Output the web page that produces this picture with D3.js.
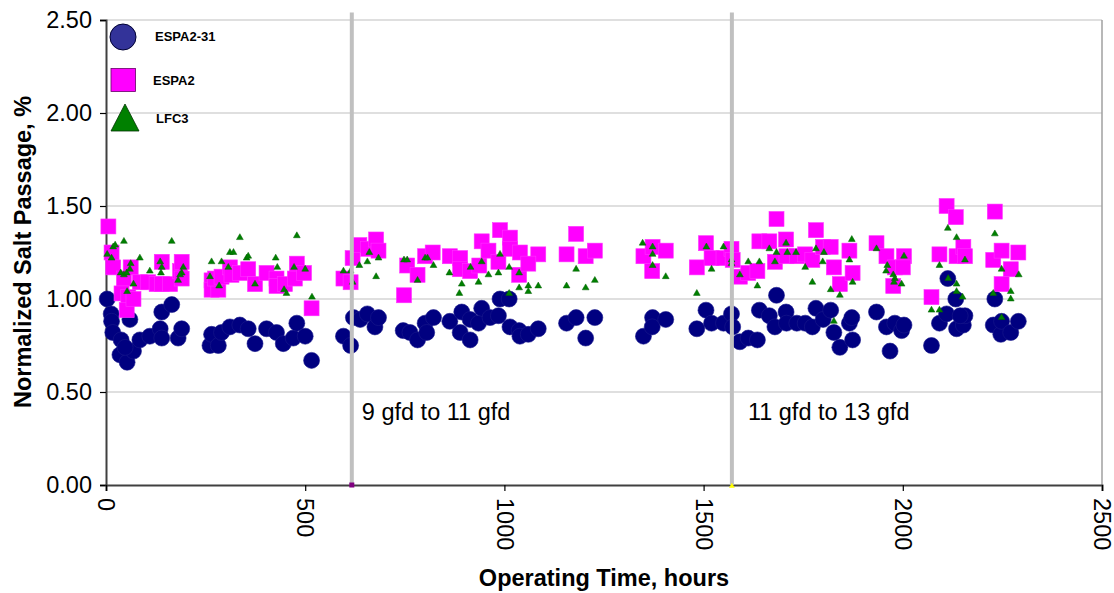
<!DOCTYPE html>
<html>
<head>
<meta charset="utf-8">
<script src="https://cdn.jsdelivr.net/npm/d3@7"></script>
<style>
  html, body { margin: 0; padding: 0; background: #fff; }
  svg { display: block; font-family: "Liberation Sans", Arial, sans-serif; }
</style>
</head>
<body>
<svg id="chart" width="1114" height="593"></svg>
<script>
// ESPA2-31 membrane: operating hours and normalized salt passage (%)
const espa231Hours = [3,13,14,17,38,35,53,69,60,48,85,110,136,140,140,165,181,190,
  261,265,282,290,311,336,357,374,403,428,445,470,479,500,516,
  596,614,621,638,656,675,684,746,763,782,801,805,822,863,889,893,914,914,935,943,964,985,989,1012,1014,1037,1039,1060,1085,
  1156,1180,1204,1227,1349,1372,1371,1405,1483,1506,1520,
  1550,1570,1573,1591,1612,1635,1640,1665,1679,1683,1707,1708,1734,1755,1773,1782,1800,1819,1827,1842,1866,1872,1874,
  1934,1959,1968,1980,1997,2003,2072,2092,2110,2113,2133,2135,2152,2156,2144,2227,2231,2246,2248,2271,2290];
const espa231Values = [1.00,0.92,0.88,0.82,0.78,0.70,0.66,0.72,0.89,0.74,0.78,0.80,0.84,0.79,0.93,0.97,0.79,0.84,
  0.75,0.81,0.75,0.82,0.85,0.86,0.84,0.76,0.84,0.82,0.76,0.79,0.87,0.80,0.67,
  0.80,0.75,0.90,0.89,0.92,0.85,0.90,0.83,0.82,0.78,0.87,0.82,0.90,0.88,0.82,0.93,0.78,0.89,0.87,0.95,0.90,0.91,1.00,1.00,0.85,0.83,0.80,0.81,0.84,
  0.87,0.90,0.79,0.90,0.80,0.90,0.85,0.89,0.84,0.94,0.87,
  0.87,0.92,0.85,0.77,0.79,0.78,0.94,0.91,0.85,1.02,0.93,0.87,0.87,0.87,0.85,0.95,0.89,0.94,0.82,0.74,0.87,0.90,0.78,
  0.93,0.85,0.72,0.87,0.83,0.86,0.75,0.87,0.92,1.11,1.00,0.84,0.86,0.91,0.91,0.86,1.00,0.81,0.88,0.82,0.88];

// ESPA2 membrane
const espa2Hours = [6,14,18,45,39,56,52,69,62,85,106,127,140,140,161,186,190,190,
  265,265,282,274,290,311,315,336,357,374,403,428,428,449,479,474,497,516,
  596,614,619,636,658,678,684,748,756,782,801,820,863,889,889,914,943,937,960,989,985,1014,1014,1037,1039,1085,1060,
  1156,1180,1204,1227,1349,1372,1371,1405,1483,1506,1520,
  1550,1570,1573,1591,1612,1635,1640,1665,1679,1683,1707,1708,1734,1755,1773,1782,1800,1819,1827,1842,1866,1874,
  1934,1959,1980,2003,2000,1976,2072,2092,2110,2133,2135,2152,2156,2227,2231,2248,2271,2248,2290];
const espa2Values = [1.39,1.25,1.17,1.11,1.03,1.01,0.94,1.00,1.17,1.09,1.09,1.08,1.20,1.08,1.08,1.15,1.20,1.11,
  1.10,1.05,1.05,1.11,1.12,1.17,1.13,1.14,1.16,1.08,1.14,1.11,1.07,1.08,1.19,1.11,1.14,0.95,
  1.11,1.09,1.22,1.29,1.27,1.32,1.26,1.02,1.18,1.13,1.23,1.25,1.23,1.22,1.16,1.15,1.31,1.18,1.26,1.37,1.20,1.33,1.27,1.13,1.25,1.24,1.19,
  1.24,1.35,1.23,1.26,1.23,1.28,1.15,1.26,1.17,1.30,1.22,
  1.22,1.27,1.21,1.12,1.14,1.15,1.31,1.31,1.20,1.43,1.32,1.23,1.23,1.24,1.21,1.37,1.28,1.28,1.17,1.08,1.26,1.14,
  1.30,1.23,1.17,1.23,1.17,1.07,1.01,1.24,1.50,1.44,1.23,1.28,1.23,1.21,1.47,1.26,1.16,1.08,1.25];

// LFC3 membrane
const lfc3Hours = [3,14,18,23,45,37,45,52,60,62,69,53,85,110,136,140,138,165,194,190,186,181,
  265,261,284,290,311,320,307,336,353,357,374,426,430,447,453,472,479,500,517,
  596,614,619,636,656,661,684,678,748,756,782,801,807,822,862,887,893,915,935,943,960,985,989,1012,1012,1037,1037,1060,1060,1085,
  1156,1180,1204,1227,1347,1372,1372,1372,1405,1483,1507,1520,
  1550,1570,1570,1591,1612,1635,1640,1665,1679,1683,1707,1710,1732,1755,1773,1782,1799,1802,1819,1827,1842,1866,1872,1874,
  1934,1958,1961,1976,1980,1978,1997,2003,2072,2092,2092,2113,2114,2135,2135,2135,2150,2156,2231,2227,2248,2248,2271,2271,2291];
const lfc3Values = [1.24,1.22,1.28,1.29,1.31,1.14,1.13,1.14,1.16,1.19,1.08,1.04,1.22,1.15,1.20,1.17,1.14,1.31,1.17,1.14,1.13,1.10,
  1.20,1.12,1.07,1.20,1.25,1.25,1.17,1.33,1.22,1.23,1.08,1.22,1.17,1.05,1.03,1.17,1.34,1.16,1.01,
  1.15,1.15,1.09,1.18,1.20,1.25,1.22,1.12,1.21,1.21,1.10,1.22,1.22,1.18,1.14,1.03,1.08,1.17,1.09,1.20,1.13,1.14,1.24,1.17,1.03,1.14,1.06,1.07,1.04,1.07,
  1.07,1.16,1.06,1.10,1.30,1.28,1.24,1.18,1.12,1.03,1.28,1.16,
  1.28,1.21,1.19,1.13,1.20,1.07,1.20,1.27,1.20,1.25,1.30,1.25,1.25,1.17,1.09,1.27,1.20,1.25,1.05,0.88,1.02,1.21,1.32,1.09,
  1.27,1.15,1.18,1.13,1.11,1.09,1.08,1.23,0.94,0.94,1.18,1.38,1.11,1.33,1.08,1.04,1.01,1.21,1.35,1.03,1.16,0.90,1.04,1.00,1.13];

// Flux step changes
const fluxChangeHours = [617, 1571];
const fluxChangeLabels = ["9 gfd to 11 gfd", "11 gfd to 13 gfd"];

const xTicks = [0, 500, 1000, 1500, 2000, 2500];
const yTicks = [0, 0.5, 1.0, 1.5, 2.0, 2.5];

const seriesNames = ["ESPA2-31", "ESPA2", "LFC3"];

const svg = d3.select("#chart");
const x = d3.scaleLinear().domain([0, 2500]).range([106, 1102]);
const y = d3.scaleLinear().domain([0, 2.5]).range([485, 20]);

const zip = (h, v) => h.map((d, i) => ({ h: d, v: v[i] }));

// horizontal gridlines
svg.append("g").selectAll("line").data(yTicks.filter(d => d > 0)).join("line")
  .attr("x1", x(0)).attr("x2", x(2500))
  .attr("y1", d => y(d)).attr("y2", d => y(d))
  .attr("stroke", "#c0c0c0").attr("stroke-width", 1.2);

// right frame
svg.append("line").attr("x1", x(2500)).attr("x2", x(2500)).attr("y1", y(2.5)).attr("y2", y(0))
  .attr("stroke", "#a0a0a0").attr("stroke-width", 1.5);

// y axis
const yAxis = svg.append("g").attr("transform", `translate(${x(0)},0)`)
  .call(d3.axisLeft(y).tickValues(yTicks).tickFormat(d3.format(".2f")).tickSize(6).tickPadding(8));
yAxis.select(".domain").attr("stroke", "#404040").attr("stroke-width", 2);
yAxis.selectAll(".tick line").attr("stroke", "#000").attr("stroke-width", 1.2);
yAxis.selectAll(".tick text").attr("font-size", 23.5).attr("fill", "#000")
  .attr("font-family", "Liberation Sans, Arial, sans-serif");

// x axis
const xAxis = svg.append("g").attr("transform", `translate(0,${y(0)})`)
  .call(d3.axisBottom(x).tickValues(xTicks).tickFormat(d3.format("d")).tickSize(6));
xAxis.select(".domain").attr("stroke", "#404040").attr("stroke-width", 2);
xAxis.selectAll(".tick line").attr("stroke", "#000").attr("stroke-width", 1.2);
xAxis.selectAll(".tick text")
  .attr("font-size", 23.5).attr("fill", "#000")
  .attr("font-family", "Liberation Sans, Arial, sans-serif")
  .attr("text-anchor", "start")
  .attr("transform", "translate(0,13) rotate(90)")
  .attr("x", 0).attr("y", 0).attr("dy", "0.35em");

// data markers
svg.append("g").selectAll("circle").data(zip(espa231Hours, espa231Values)).join("circle")
  .attr("cx", d => x(d.h)).attr("cy", d => y(d.v)).attr("r", 8)
  .attr("fill", "#000080").attr("stroke", "#1a1a8c").attr("stroke-width", 0.6);

const sq = 15;
svg.append("g").selectAll("rect").data(zip(espa2Hours, espa2Values)).join("rect")
  .attr("x", d => x(d.h) - sq / 2).attr("y", d => y(d.v) - sq / 2)
  .attr("width", sq).attr("height", sq)
  .attr("fill", "#ff00ff").attr("stroke", "#ff33ff").attr("stroke-width", 0.6);

const tri = d3.symbol().type(d3.symbolTriangle).size(20);
svg.append("g").selectAll("path").data(zip(lfc3Hours, lfc3Values)).join("path")
  .attr("d", tri)
  .attr("transform", d => `translate(${x(d.h)},${y(d.v)})`)
  .attr("fill", "#008000").attr("stroke", "#006000").attr("stroke-width", 0.5);

// flux change markers
svg.append("g").selectAll("line").data(fluxChangeHours).join("line")
  .attr("x1", d => x(d)).attr("x2", d => x(d))
  .attr("y1", y(2.54)).attr("y2", y(0))
  .attr("stroke", "#c0c0c0").attr("stroke-width", 4);

svg.append("rect").attr("x", x(fluxChangeHours[0]) - 2.5).attr("y", y(0) - 2.5)
  .attr("width", 5).attr("height", 5).attr("fill", "#800080");
svg.append("path").attr("d", d3.symbol().type(d3.symbolTriangle).size(14))
  .attr("transform", `translate(${x(fluxChangeHours[1])},${y(0) + 1})`)
  .attr("fill", "#ffff00");

const labelOffsets = [10, 16];
svg.append("g").selectAll("text").data(fluxChangeHours).join("text")
  .attr("x", (d, i) => x(d) + labelOffsets[i]).attr("y", 420)
  .attr("font-size", 23.5).attr("fill", "#000")
  .text((d, i) => fluxChangeLabels[i]);

// legend
const legend = svg.append("g");
legend.append("circle").attr("cx", 123).attr("cy", 37).attr("r", 13)
  .attr("fill", "#333399").attr("stroke", "#000033").attr("stroke-width", 1);
legend.append("rect").attr("x", 111).attr("y", 68.5).attr("width", 24.5).attr("height", 23)
  .attr("fill", "#ff00ff").attr("stroke", "#660066").attr("stroke-width", 0.8);
legend.append("path").attr("d", "M125,104 L139,131 L111,131 Z")
  .attr("fill", "#008000").attr("stroke", "#003300").attr("stroke-width", 0.8);
const legendText = [[155, 36], [153, 80], [156, 118]];
legend.selectAll("text").data(seriesNames).join("text")
  .attr("x", (d, i) => legendText[i][0]).attr("y", (d, i) => legendText[i][1])
  .attr("dy", "0.35em").attr("font-size", 13).attr("font-weight", "bold")
  .text(d => d);

// axis titles
svg.append("text").attr("x", 604).attr("y", 586).attr("text-anchor", "middle")
  .attr("font-size", 23.5).attr("font-weight", "bold").text("Operating Time, hours");
svg.append("text").attr("transform", "translate(31,252) rotate(-90)").attr("text-anchor", "middle")
  .attr("font-size", 23.5).attr("font-weight", "bold").text("Normalized Salt Passage, %");
</script>
</body>
</html>
